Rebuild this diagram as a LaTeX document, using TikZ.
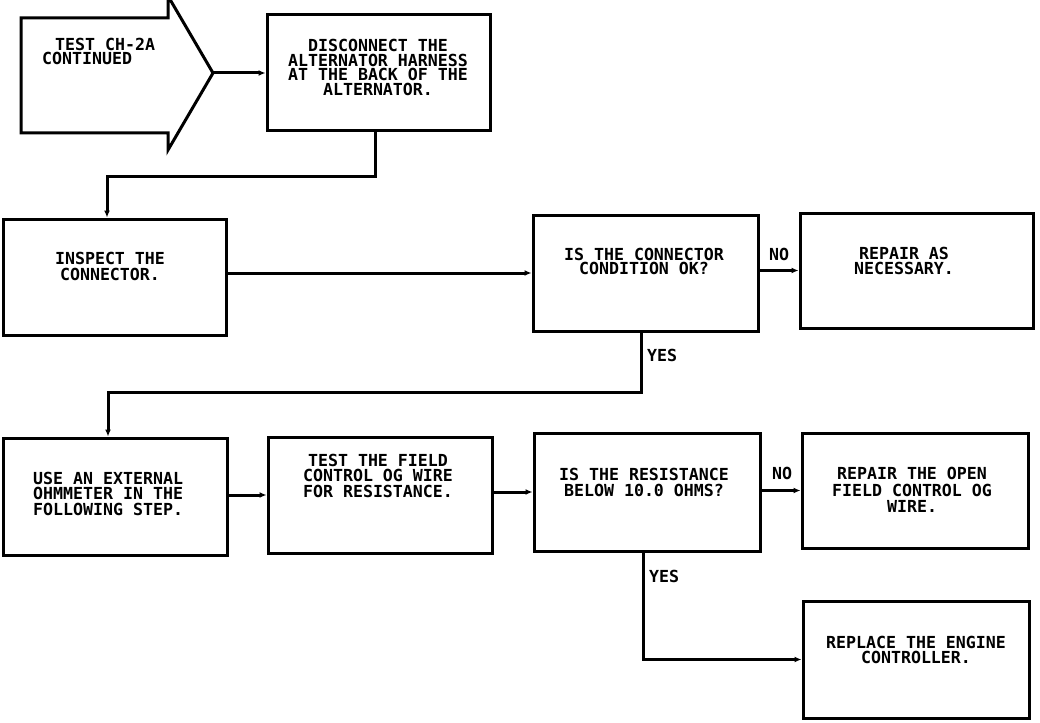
\documentclass[tikz,border=0pt]{standalone}
\usepackage{fontspec}
\newfontfamily\plotfont{DejaVu Sans Mono Bold}
\usetikzlibrary{arrows.meta,calc}
\begin{document}
\begin{tikzpicture}[x=1pt,y=-1pt,
  box/.style={draw,line width=3pt,inner sep=0pt},
  txt/.style={font=\plotfont\fontsize{16.6}{#1}\selectfont,align=center,inner sep=0pt},
  txt/.default=15,
  conn/.style={line width=3pt,-{Latex[length=7pt,width=6pt]}}]
\useasboundingbox (0,0) rectangle (1040,722);
\fill[white] (0,0) rectangle (1040,722);
% start arrow shape
\draw[line width=3pt] (21,18) -- (168,18) -- (168,-4) -- (213,73) -- (168,150) -- (168,133) -- (21,133) -- cycle;
\coordinate (tip) at (213,73);
% boxes
\node[box,minimum width=223pt,minimum height=116pt] (disc) at (378.5,73) {};
\node[box,minimum width=223pt,minimum height=116pt] (insp) at (114.5,277) {};
\node[box,minimum width=225pt,minimum height=116pt] (qconn) at (645.5,273) {};
\node[box,minimum width=233pt,minimum height=115pt] (rep1) at (916.5,270.5) {};
\node[box,minimum width=224pt,minimum height=117pt] (use) at (115,496.5) {};
\node[box,minimum width=224pt,minimum height=116pt] (test) at (380,495) {};
\node[box,minimum width=226pt,minimum height=118pt] (qres) at (647,492) {};
\node[box,minimum width=226pt,minimum height=115pt] (rep2) at (915,490.5) {};
\node[box,minimum width=226pt,minimum height=117pt] (repl) at (916,659.5) {};
% texts
\node[txt,anchor=west] (t0a) at (55,44) {TEST CH-2A};
\node[txt,anchor=west] (t0b) at (42,58) {CONTINUED};
\node[txt=14.5] (t1) at (378,67.5) {DISCONNECT THE\\ALTERNATOR HARNESS\\AT THE BACK OF THE\\ALTERNATOR.};
\node[txt=16] (t2) at (110,266) {INSPECT THE\\CONNECTOR.};
\node[txt=14] (t3) at (644,261.5) {IS THE CONNECTOR\\CONDITION OK?};
\node[txt=15] (t4) at (904,260.5) {REPAIR AS\\NECESSARY.};
\node[txt=15.5,align=left,anchor=west] (t5) at (33,493.5) {USE AN EXTERNAL\\OHMMETER IN THE\\FOLLOWING STEP.};
\node[txt=15.5] (t6) at (378,475.5) {TEST THE FIELD\\CONTROL OG WIRE\\FOR RESISTANCE.};
\node[txt=16] (t7) at (644,482) {IS THE RESISTANCE\\BELOW 10.0 OHMS?};
\node[txt=16.5] (t8) at (912,490) {REPAIR THE OPEN\\FIELD CONTROL OG\\WIRE.};
\node[txt=15] (t9) at (916,649.5) {REPLACE THE ENGINE\\CONTROLLER.};
\node[txt] (no1) at (779,254) {NO};
\node[txt] (yes1) at (662,355) {YES};
\node[txt] (no2) at (782,473) {NO};
\node[txt] (yes2) at (664,576) {YES};
% connectors
\draw[conn] (tip) -- (disc.west);
\draw[conn] ([xshift=-3.5pt]disc.south) -- ++(0,44) -| ([xshift=-7.5pt]insp.north);
\draw[conn] (insp.east |- qconn.west) -- (qconn.west);
\draw[conn] (qconn.east |- rep1.west) -- (rep1.west);
\draw[conn] ([xshift=-4.5pt]qconn.south) -- ++(0,60) -| ([xshift=-7pt]use.north);
\draw[conn] (use.east |- test.west) -- (test.west);
\draw[conn] (test.east |- qres.west) -- (qres.west);
\draw[conn] (qres.east |- rep2.west) -- (rep2.west);
\draw[conn] ([xshift=-4pt]qres.south) |- (repl.west);
\end{tikzpicture}
\end{document}
